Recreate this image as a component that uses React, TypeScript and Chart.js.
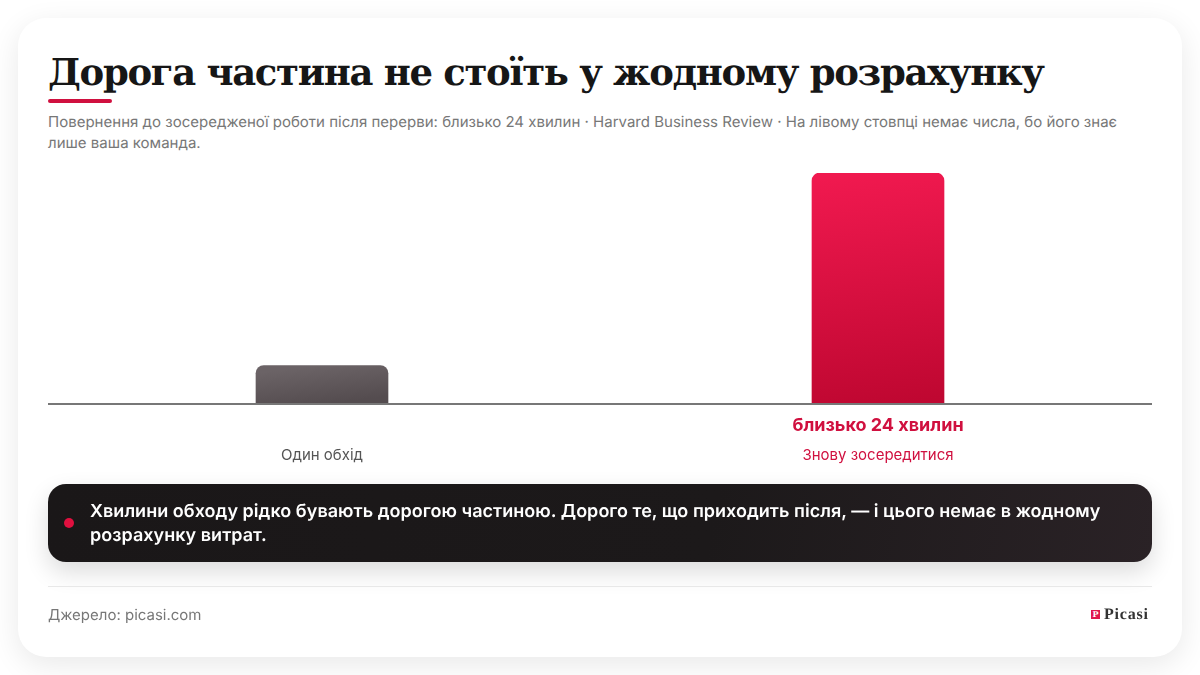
import { useEffect, useRef } from "react"
import { Chart, registerables } from "chart.js"

Chart.register(...registerables)

const categories = ["Один обхід", "Знову зосередитися"]
const minutes = [4, 24]
const valueLabels = ["", "близько 24 хвилин"]

const title = "Дорога частина не стоїть у жодному розрахунку"
const subtitle =
  "Повернення до зосередженої роботи після перерви: близько 24 хвилин · Harvard Business Review · На лівому стовпці немає числа, бо його знає лише ваша команда."
const callout =
  "Хвилини обходу рідко бувають дорогою частиною. Дорого те, що приходить після, — і цього немає в жодному розрахунку витрат."
const source = "Джерело: picasi.com"

const sans = "Inter, sans-serif"
const serif = "'DejaVu Serif', serif"
const crimson = "#d0103f"

// базова лінія та підпис значення під стовпцем
const annotations = {
  id: "annotations",
  afterDatasetsDraw(chart: Chart) {
    const { ctx, chartArea, scales } = chart
    ctx.save()
    ctx.fillStyle = "#777777"
    ctx.fillRect(chartArea.left + 4, chartArea.bottom - 1, chartArea.width - 8, 2)
    ctx.font = `700 18px ${sans}`
    ctx.fillStyle = crimson
    ctx.textAlign = "center"
    ctx.textBaseline = "middle"
    valueLabels.forEach((label, i) => {
      if (label) ctx.fillText(label, scales.x.getPixelForValue(i), chartArea.bottom + 22)
    })
    ctx.restore()
  },
}

function BarPanel() {
  const canvasRef = useRef<HTMLCanvasElement>(null)

  useEffect(() => {
    if (!canvasRef.current) return
    const chart = new Chart(canvasRef.current, {
      type: "bar",
      data: {
        labels: categories,
        datasets: [
          {
            data: minutes,
            barThickness: 132,
            borderRadius: { topLeft: 8, topRight: 8, bottomLeft: 0, bottomRight: 0 },
            borderSkipped: false,
            backgroundColor: (context: any) => {
              const { chart, dataIndex } = context
              const { ctx, scales, chartArea } = chart
              if (context.type !== "data" || !chartArea) return crimson
              const cx = scales.x.getPixelForValue(dataIndex)
              const top = scales.y.getPixelForValue(minutes[dataIndex])
              const bottom = scales.y.getPixelForValue(0)
              const tilt = (bottom - top) * 0.06
              const g = ctx.createLinearGradient(cx - tilt, top, cx + tilt, bottom)
              if (dataIndex === 0) {
                g.addColorStop(0, "#6b6366")
                g.addColorStop(1, "#544c4f")
              } else {
                g.addColorStop(0, "#f0194f")
                g.addColorStop(1, "#bf0731")
              }
              return g
            },
          },
        ],
      },
      options: {
        animation: false,
        responsive: false,
        maintainAspectRatio: false,
        layout: { padding: 0 },
        plugins: { legend: { display: false }, tooltip: { enabled: false } },
        scales: {
          x: {
            border: { display: false },
            grid: { display: false },
            afterFit: (scale: any) => {
              scale.height = 66
            },
            ticks: {
              padding: 34,
              maxRotation: 0,
              font: { family: sans, size: 15 },
              color: (context: any) => (context.index === 0 ? "#555555" : crimson),
            },
          },
          y: { display: false, min: 0, max: 24 },
        },
      },
      plugins: [annotations],
    })

    return () => {
      chart.destroy()
    }
  }, [])

  return <canvas ref={canvasRef} width={1112} height={297} style={{ position: "absolute", left: 44, top: 173, display: "block" }} />
}

export default function App() {
  useEffect(() => {
    document.body.style.margin = "0"
  }, [])

  return (
    <div
      style={{
        position: "relative",
        width: 1200,
        height: 675,
        overflow: "hidden",
        background: "#fff",
        fontFamily: sans,
        textRendering: "geometricPrecision",
      }}
    >
      <div
        style={{
          position: "absolute",
          left: 18,
          top: 18,
          width: 1164,
          height: 639,
          borderRadius: 28,
          background: "#fff",
          boxShadow: "0 8px 30px rgba(0,0,0,0.09)",
        }}
      />
      <div
        style={{
          position: "absolute",
          left: 48,
          top: 44,
          whiteSpace: "nowrap",
          fontFamily: serif,
          fontWeight: 700,
          fontSize: 37,
          lineHeight: "56px",
          letterSpacing: -1.32,
          color: "#161616",
        }}
      >
        {title}
      </div>
      <div style={{ position: "absolute", left: 48, top: 99, width: 64, height: 4, borderRadius: 2, background: crimson }} />
      <div style={{ position: "absolute", left: 48, top: 111, width: 1090, fontSize: 15, lineHeight: "21px", letterSpacing: 0.013, color: "#777" }}>{subtitle}</div>

      <BarPanel />

      <div
        style={{
          position: "absolute",
          left: 48,
          top: 484,
          width: 1104,
          height: 78,
          borderRadius: 18,
          background: "linear-gradient(100deg, #1a1718 0%, #1c191a 60%, #2a2226 100%)",
          boxShadow: "0 10px 24px rgba(0,0,0,0.14)",
        }}
      >
        <div style={{ position: "absolute", left: 16, top: 34, width: 10, height: 10, borderRadius: "50%", background: "#e0103f" }} />
        <div style={{ position: "absolute", left: 42, top: 16, width: 1030, fontSize: 18, fontWeight: 600, lineHeight: "24px", letterSpacing: 0.03, color: "#fff" }}>{callout}</div>
      </div>

      <div style={{ position: "absolute", left: 48, top: 586, width: 1104, height: 1, background: "#e8e8e8" }} />
      <div style={{ position: "absolute", left: 48, top: 604, fontSize: 15, lineHeight: "22px", color: "#777" }}>{source}</div>

      <div
        style={{
          position: "absolute",
          left: 1091,
          top: 610,
          width: 9,
          height: 9,
          background: "#e0184f",
          color: "#fff",
          fontSize: 8,
          lineHeight: "9px",
          fontWeight: 700,
          textAlign: "center",
          fontFamily: serif,
        }}
      >
        P
      </div>
      <div
        style={{
          position: "absolute",
          left: 1104,
          top: 605,
          fontFamily: "'Liberation Serif', serif",
          fontWeight: 700,
          fontSize: 16,
          lineHeight: "19px",
          letterSpacing: 0.8,
          color: "#333",
        }}
      >
        Picasi
      </div>
    </div>
  )
}
